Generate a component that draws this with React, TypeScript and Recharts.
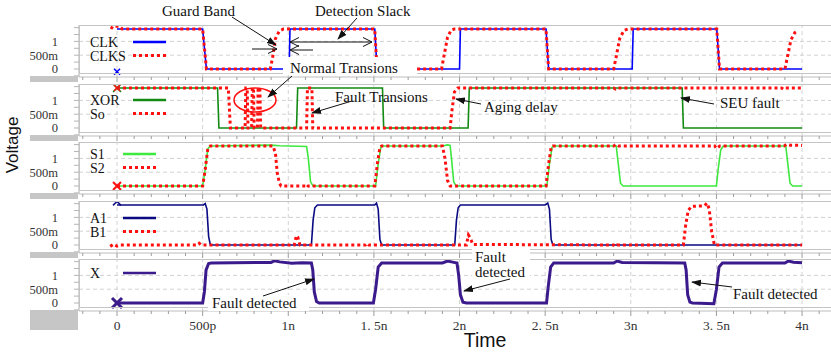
import React from 'react';
import { LineChart, Line, XAxis, YAxis, ReferenceLine, ReferenceDot, Legend } from 'recharts';

type Pt = [number, number];

// waveforms: [time in ns, volts]
const clk: Pt[] = [
  [0, 1.45], [0.5, 1.45], [0.522, 0], [1.005, 0], [1.01, 1.45], [1.505, 1.45], [1.518, 0],
  [2.0, 0], [2.005, 1.45], [2.505, 1.45], [2.52, 0], [3.008, 0], [3.014, 1.45],
  [3.502, 1.45], [3.518, 0], [4.0, 0],
];
const clks: Pt[] = [
  [-0.035, 1.45], [-0.025, 1.55], [0.015, 1.55], [0.03, 1.45], [0.5, 1.45], [0.522, 0],
  [0.895, 0], [0.908, 0.4], [0.925, 1.1], [0.948, 1.38], [0.972, 1.45], [1.505, 1.45],
  [1.518, 0], [1.895, 0], [1.91, 0.5], [1.93, 1.15], [1.95, 1.4], [1.97, 1.45],
  [2.505, 1.45], [2.52, 0], [2.9, 0], [2.915, 0.45], [2.935, 1.1], [2.96, 1.4],
  [2.985, 1.45], [3.502, 1.45], [3.518, 0], [3.9, 0], [3.915, 0.45], [3.935, 1.05],
  [3.958, 1.32], [3.978, 1.4],
];
const xor: Pt[] = [
  [0, 1.45], [0.587, 1.45], [0.595, 0], [1.048, 0], [1.055, 1.45], [1.55, 1.45],
  [1.557, 0], [2.05, 0], [2.057, 1.45], [3.3, 1.45], [3.307, 0], [4.0, 0],
];
const so: Pt[] = [
  [0, 1.45], [0.65, 1.45], [0.662, 0], [0.748, 0], [0.752, 1.45], [0.76, 1.45], [0.765, 0],
  [0.786, 0], [0.79, 1.45], [0.797, 1.45], [0.801, 0], [0.82, 0], [0.824, 1.45],
  [0.834, 1.45], [0.839, 0], [1.107, 0], [1.112, 1.45], [1.138, 1.45], [1.143, 0],
  [1.945, 0], [1.955, 0.6], [1.97, 1.3], [1.99, 1.45], [2.9, 1.45], [2.91, 1.41],
  [2.92, 1.45], [3.88, 1.45], [3.89, 1.41], [3.9, 1.45], [4.0, 1.45],
];
const s1: Pt[] = [
  [0, 0], [0.5, 0], [0.515, 0.6], [0.53, 1.35], [0.545, 1.45], [0.9, 1.48], [0.95, 1.46],
  [1.107, 1.43], [1.117, 1.0], [1.13, 0.15], [1.145, 0], [1.51, 0], [1.525, 0.8],
  [1.54, 1.4], [1.55, 1.45], [1.9, 1.45], [1.93, 1.49], [1.945, 1.47], [1.953, 1.0],
  [1.966, 0.15], [1.98, 0], [2.51, 0], [2.525, 0.8], [2.54, 1.4], [2.55, 1.45],
  [2.915, 1.45], [2.925, 0.9], [2.94, 0.1], [2.955, 0], [3.5, 0], [3.51, 0.6],
  [3.525, 1.3], [3.54, 1.45], [3.905, 1.45], [3.915, 0.9], [3.93, 0.1], [3.945, 0],
  [4.0, 0],
];
const s2: Pt[] = [
  [0, 0], [0.5, 0], [0.515, 0.6], [0.53, 1.35], [0.545, 1.45], [0.91, 1.45], [0.925, 1.2],
  [0.935, 0.5], [0.948, 0.1], [0.958, 0], [1.1, 0], [1.108, -0.06], [1.116, 0],
  [1.505, 0], [1.52, 0.8], [1.535, 1.4], [1.545, 1.45], [1.9, 1.45], [1.915, 1.0],
  [1.93, 0.2], [1.945, 0], [2.505, 0], [2.52, 0.8], [2.535, 1.4], [2.545, 1.45],
  [2.9, 1.45], [2.915, 1.51], [2.93, 1.45], [3.49, 1.45], [3.5, 1.36], [3.52, 1.45],
  [3.895, 1.45], [3.91, 1.51], [3.93, 1.48], [4.0, 1.47],
];
const a1: Pt[] = [
  [0, 1.45], [0.505, 1.45], [0.515, 1.5], [0.525, 1.3], [0.535, 0.3], [0.545, 0],
  [1.135, 0], [1.145, 0.9], [1.155, 1.35], [1.17, 1.45], [1.505, 1.45], [1.515, 1.52],
  [1.525, 1.3], [1.535, 0.2], [1.545, 0], [1.972, 0], [1.982, 0.9], [1.992, 1.35],
  [2.005, 1.45], [2.5, 1.45], [2.515, 1.52], [2.525, 1.3], [2.535, 0.2], [2.545, 0],
  [4.0, 0],
];
const b1: Pt[] = [
  [-0.04, -0.05], [-0.02, 0.03], [0, -0.04], [0.02, 0], [0.47, 0], [0.48, 0.06], [0.49, 0],
  [1.035, 0], [1.047, 0.34], [1.056, 0.28], [1.068, 0], [1.45, 0], [1.46, 0.06],
  [1.47, 0], [2.04, 0], [2.052, 0.36], [2.062, 0.26], [2.078, 0.02], [2.9, 0],
  [2.91, -0.05], [2.92, 0], [3.307, 0], [3.32, 0.7], [3.335, 1.25], [3.355, 1.4],
  [3.43, 1.42], [3.445, 1.52], [3.458, 1.3], [3.472, 0.5], [3.488, 0], [4.0, 0],
];
const xOut: Pt[] = [
  [0, 0], [0.5, 0], [0.51, 0.4], [0.52, 1.2], [0.535, 1.43], [0.55, 1.45], [0.9, 1.47],
  [0.92, 1.53], [0.95, 1.49], [1.02, 1.44], [1.08, 1.46], [1.135, 1.45], [1.143, 1.2],
  [1.152, 0.4], [1.165, 0.05], [1.18, 0], [1.497, 0], [1.51, 0.5], [1.525, 1.3],
  [1.545, 1.45], [1.9, 1.45], [1.93, 1.52], [1.96, 1.48], [1.985, 1.45], [1.995, 1.0],
  [2.005, 0.3], [2.02, 0.03], [2.04, 0], [2.508, 0], [2.518, 0.6], [2.532, 1.3],
  [2.55, 1.45], [2.9, 1.45], [2.92, 1.52], [2.95, 1.47], [3.315, 1.45], [3.323, 1.2],
  [3.332, 0.3], [3.345, 0.03], [3.36, 0], [3.485, -0.03], [3.5, 0.5], [3.515, 1.3],
  [3.535, 1.45], [3.9, 1.45], [3.92, 1.52], [3.95, 1.48], [4.0, 1.46],
];

const timeTicks = [0, 0.5, 1, 1.5, 2, 2.5, 3, 3.5, 4];
const timeLabels = ['0', '500p', '1n', '1. 5n', '2n', '2. 5n', '3n', '3. 5n', '4n'];
const voltTicks = [-0.25, 0, 0.25, 0.5, 0.75, 1, 1.25, 1.5];
const voltMajor = [0, 0.5, 1];
const voltLabels = ['0', '500m', '1'];

const minorTimeTicks = Array.from({ length: 44 }, (_, i) => (i - 2) / 10);
const xDomain: [number, number] = [-0.222, 4.169];
const yDomain: [number, number] = [-0.29, 1.594];

const SERIF = "'Liberation Serif', 'Times New Roman', serif";
const SANS = "'Liberation Sans', Arial, sans-serif";
const RED = '#ff1010';
const GRID = '#d2d2d2';
const BORDER = '#c4c4c4';

type Series = { name: string; pts: Pt[]; color: string; width: number; dash?: string };
type Mark = { v: number; color: string; size: number; width: number };
type PanelDef = {
  top: number;
  series: Series[];
  marks: Mark[];
  legendTop: number;
  legendGap: number;
};

const dotted = { color: RED, width: 3, dash: '3 3' };

const panels: PanelDef[] = [
  {
    top: 25,
    series: [
      { name: 'CLK', pts: clk, color: '#0000ff', width: 1.6 },
      { name: 'CLKS', pts: clks, ...dotted },
    ],
    marks: [{ v: -0.1, color: '#0000ff', size: 3, width: 1.5 }],
    legendTop: 11,
    legendGap: 43,
  },
  {
    top: 84,
    series: [
      { name: 'XOR', pts: xor, color: '#138a13', width: 1.6 },
      { name: 'So', pts: so, ...dotted },
    ],
    marks: [
      { v: 1.45, color: '#138a13', size: 4, width: 1.5 },
      { v: 1.45, color: RED, size: 3, width: 1.5 },
    ],
    legendTop: 10,
    legendGap: 43,
  },
  {
    top: 142,
    series: [
      { name: 'S1', pts: s1, color: '#3ee83e', width: 1.6 },
      { name: 'S2', pts: s2, ...dotted },
    ],
    marks: [{ v: 0, color: RED, size: 4, width: 2 }],
    legendTop: 6,
    legendGap: 33,
  },
  {
    top: 201,
    series: [
      { name: 'A1', pts: a1, color: '#0a0a82', width: 1.6 },
      { name: 'B1', pts: b1, ...dotted },
    ],
    marks: [{ v: 1.58, color: '#0a0a82', size: 4, width: 1.5 }],
    legendTop: 11,
    legendGap: 33,
  },
  {
    top: 259,
    series: [{ name: 'X', pts: xOut, color: '#3b1a8c', width: 3 }],
    marks: [{ v: 0, color: '#3b1a8c', size: 5, width: 3 }],
    legendTop: 8,
    legendGap: 33,
  },
];

const PLOT_H = 52;
const BOX_H = 48;

const toRows = (pts: Pt[]) => pts.map(([t, v]) => ({ t, v }));

const TimeTick = (props: any) => {
  const { x, y, payload, labelled } = props;
  const idx = timeTicks.findIndex((t) => Math.abs(t - payload.value) < 1e-6);
  const major = idx >= 0;
  return (
    <g>
      <line x1={x} x2={x} y1={y} y2={y + (major ? 5 : 3)} stroke="#9c9c9c" />
      {labelled && major && (
        <text x={x} y={y + 18.5} textAnchor="middle" fontFamily={SERIF} fontSize={13.5} fill="#333">
          {timeLabels[idx]}
        </text>
      )}
    </g>
  );
};

const voltFormat = (v: number) => {
  const i = voltMajor.findIndex((m) => Math.abs(m - v) < 1e-6);
  return i >= 0 ? voltLabels[i] : '';
};

const XMark = (props: any) => {
  const { cx, cy, size, color, width } = props;
  return (
    <g stroke={color} strokeWidth={width}>
      <line x1={cx - size} y1={cy - size} x2={cx + size} y2={cy + size} />
      <line x1={cx - size} y1={cy + size} x2={cx + size} y2={cy - size} />
    </g>
  );
};

const PanelLegend = ({ series, gap }: { series: Series[]; gap: number }) => (
  <svg width={90} height={series.length * 13.5 + 4} style={{ display: 'block' }}>
    {series.map((s, i) => {
      const cy = i * 13.5 + 6;
      return (
        <g key={s.name}>
          <text x={0} y={cy + 5} fontFamily={SERIF} fontSize={14} fill="#111">
            {s.name}
          </text>
          <line
            x1={gap}
            x2={gap + 33}
            y1={cy}
            y2={cy}
            stroke={s.color}
            strokeWidth={s.dash ? 3 : 2.5}
            strokeDasharray={s.dash}
          />
        </g>
      );
    })}
  </svg>
);

const Panel = ({ p, last }: { p: PanelDef; last: boolean }) => {
  const axisH = last ? 40 : 6;
  return (
    <div style={{ position: 'absolute', left: 0, top: p.top }}>
      <LineChart width={831} height={PLOT_H + axisH} margin={{ top: 0, right: 0, bottom: 0, left: 0 }}>
        <XAxis
          type="number"
          dataKey="t"
          domain={xDomain}
          allowDataOverflow
          ticks={minorTimeTicks}
          interval={0}
          height={axisH}
          tickSize={0}
          tickMargin={0}
          tickLine={false}
          stroke="#bdbdbd"
          tick={<TimeTick labelled={last} />}
        />
        <YAxis
          type="number"
          domain={yDomain}
          allowDataOverflow
          ticks={voltTicks}
          interval={0}
          width={79}
          tickSize={5}
          tickMargin={16}
          stroke="#b5b5b5"
          tickFormatter={voltFormat}
          tick={{ fontFamily: SERIF, fontSize: 12.5, fill: '#333' }}
        />
        {timeTicks.map((t) => (
          <ReferenceLine key={`gx${t}`} x={t} stroke={GRID} strokeDasharray="4 3" />
        ))}
        {[0.5, 1].map((v) => (
          <ReferenceLine key={`gy${v}`} y={v} stroke={GRID} strokeDasharray="4 3" />
        ))}
        {p.series.map((s) => (
          <Line
            key={s.name}
            data={toRows(s.pts)}
            dataKey="v"
            type="linear"
            stroke={s.color}
            strokeWidth={s.width}
            strokeDasharray={s.dash}
            dot={false}
            activeDot={false}
            isAnimationActive={false}
          />
        ))}
        {p.marks.map((m, i) => (
          <ReferenceDot
            key={`m${i}`}
            x={0}
            y={m.v}
            r={m.size}
            ifOverflow="visible"
            shape={(sp: any) => <XMark cx={sp.cx} cy={sp.cy} size={m.size} color={m.color} width={m.width} />}
          />
        ))}
        <Legend
          layout="vertical"
          align="center"
          verticalAlign="middle"
          wrapperStyle={{ left: 90, top: p.legendTop, width: 90 }}
          content={() => <PanelLegend series={p.series} gap={p.legendGap} />}
        />
      </LineChart>
      <div
        style={{
          position: 'absolute',
          left: 79,
          top: 0,
          width: 751,
          height: BOX_H - 1,
          borderTop: `1px solid ${BORDER}`,
          borderLeft: `1px solid ${BORDER}`,
          borderBottom: `1px solid ${BORDER}`,
          pointerEvents: 'none',
        }}
      />
      <div
        style={{
          position: 'absolute',
          left: 30,
          top: PLOT_H - 1,
          width: 48,
          height: last ? 20 : 6,
          background: '#c6c6c6',
        }}
      />
    </div>
  );
};

const Note = ({ x, y, children }: { x: number; y: number; children: React.ReactNode }) => (
  <text x={x} y={y} fontFamily={SERIF} fontSize={15} fill="#111">
    {children}
  </text>
);

const Annotations = () => (
  <svg width={831} height={352} style={{ position: 'absolute', left: 0, top: 0, pointerEvents: 'none' }}>
    <defs>
      <marker id="fill" markerWidth="10" markerHeight="8" refX="9" refY="4" orient="auto" markerUnits="userSpaceOnUse">
        <path d="M0,0.5 L10,4 L0,7.5 z" fill="#111" />
      </marker>
      <marker id="open" markerWidth="10" markerHeight="10" refX="9" refY="5" orient="auto" markerUnits="userSpaceOnUse">
        <path d="M0,0.5 L9,5 L0,9.5" fill="none" stroke="#111" strokeWidth="1" />
      </marker>
      <marker id="openStart" markerWidth="10" markerHeight="10" refX="1" refY="5" orient="auto" markerUnits="userSpaceOnUse">
        <path d="M10,0.5 L1,5 L10,9.5" fill="none" stroke="#111" strokeWidth="1" />
      </marker>
    </defs>

    <g stroke="#111" strokeWidth={1}>
      <line x1={232} y1={17} x2={276} y2={45} markerEnd="url(#fill)" />
      <line x1={357} y1={18} x2={338} y2={39} markerEnd="url(#fill)" />
      <line x1={290} y1={42} x2={372} y2={42} markerStart="url(#openStart)" markerEnd="url(#open)" />
      <line x1={313} y1={50} x2={290} y2={50} markerEnd="url(#open)" />
      <line x1={252} y1={49} x2={277} y2={49} markerEnd="url(#open)" />
    </g>
    <Note x={162} y={16}>Guard Band</Note>
    <Note x={315} y={16}>Detection Slack</Note>

    <rect x={283} y={57} width={134} height={18} fill="#fff" />
    <Note x={290} y={73}>Normal Transions</Note>
    <ellipse cx={255} cy={100} rx={21} ry={12} fill="none" stroke={RED} strokeWidth={1.5} />

    <g stroke="#111" strokeWidth={1}>
      <line x1={292} y1={76} x2={268} y2={97} markerEnd="url(#fill)" />
      <line x1={352} y1={101} x2={312} y2={113} markerEnd="url(#fill)" />
      <line x1={481} y1={104} x2={456} y2={99} markerEnd="url(#fill)" />
      <line x1={714} y1={104} x2={681} y2={98} markerEnd="url(#fill)" />
    </g>
    <Note x={335} y={102}>Fault Transions</Note>
    <Note x={484} y={112}>Aging delay</Note>
    <Note x={720} y={108}>SEU fault</Note>

    <rect x={208} y={295} width={101} height={16} fill="#fff" />
    <Note x={212} y={308}>Fault detected</Note>
    <rect x={472} y={248} width={58} height={33} fill="#fff" />
    <Note x={475} y={262}>Fault</Note>
    <Note x={475} y={277}>detected</Note>
    <Note x={733} y={299}>Fault detected</Note>
    <g stroke="#111" strokeWidth={1}>
      <line x1={263} y1={296} x2={314} y2={279} markerEnd="url(#fill)" />
      <line x1={510} y1={279} x2={464} y2={291} markerEnd="url(#fill)" />
      <line x1={732} y1={287} x2={692} y2={282} markerEnd="url(#fill)" />
    </g>

    <text x={12} y={145} transform="rotate(-90 12 145)" textAnchor="middle" dominantBaseline="central" fontFamily={SANS} fontSize={17} fill="#111">
      Voltage
    </text>
    <text x={485} y={347} textAnchor="middle" fontFamily={SANS} fontSize={19.5} fill="#111">
      Time
    </text>
  </svg>
);

const App = () => (
  <div style={{ position: 'absolute', left: 0, top: 0, width: 831, height: 352, overflow: 'hidden', background: '#fff' }}>
    {panels.map((p, i) => (
      <Panel key={i} p={p} last={i === panels.length - 1} />
    ))}
    <Annotations />
  </div>
);

export default App;
